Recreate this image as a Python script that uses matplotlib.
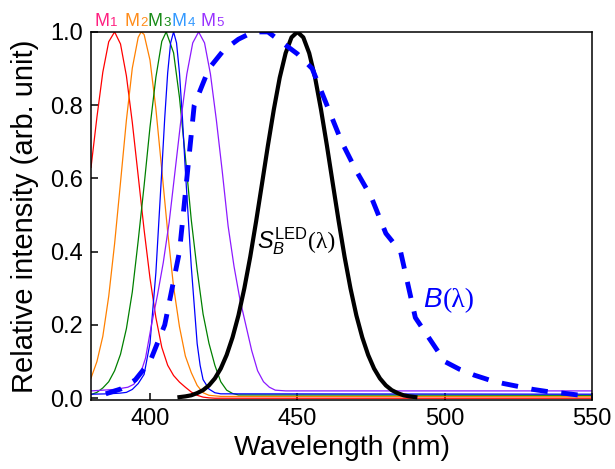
import matplotlib
matplotlib.use('Agg')
import matplotlib.pyplot as plt

# M1..M5 spectra
m1_wl = [380, 382, 384, 386, 388, 390, 392, 394, 396, 398, 400, 402, 404, 406, 408, 410, 412, 414, 416, 418, 420, 422, 550]
m1 = [0.63, 0.767, 0.89, 0.973, 1.0, 0.967, 0.88, 0.753, 0.607, 0.46, 0.328, 0.22, 0.139, 0.09, 0.062, 0.044, 0.03, 0.017, 0.008, 0.003, 0.001, 0.0, 0.0]

m2_wl = [380, 382, 384, 386, 388, 390, 392, 394, 396, 397, 398, 400, 402, 404, 406, 408, 410, 412, 414, 416, 418, 420, 424, 550]
m2 = [0.055, 0.1, 0.169, 0.278, 0.422, 0.589, 0.759, 0.901, 0.985, 1.0, 0.993, 0.923, 0.79, 0.624, 0.454, 0.304, 0.195, 0.115, 0.07, 0.035, 0.015, 0.008, 0.005, 0.004]

m3_wl = [380, 382, 384, 386, 388, 390, 392, 394, 396, 398, 400, 402, 404, 405.5, 408, 410, 412, 414, 416, 418, 420, 422, 424, 426, 428, 430, 550]
m3 = [0.01, 0.016, 0.028, 0.045, 0.075, 0.12, 0.19, 0.29, 0.43, 0.58, 0.74, 0.876, 0.974, 1.0, 0.943, 0.821, 0.658, 0.487, 0.35, 0.23, 0.15, 0.09, 0.045, 0.022, 0.013, 0.009, 0.008]

m4_wl = [380, 386, 390, 392, 394, 396, 398, 400, 402, 404, 405, 406, 407, 408, 409, 410, 411, 412, 414, 416, 417, 418, 420, 422, 424, 550]
m4 = [0.011, 0.012, 0.014, 0.016, 0.024, 0.04, 0.065, 0.15, 0.343, 0.621, 0.765, 0.888, 0.97, 1.0, 0.97, 0.888, 0.765, 0.621, 0.36, 0.149, 0.09, 0.051, 0.025, 0.015, 0.012, 0.011]

m5_wl = [380, 388, 392.5, 394.5, 396.5, 398.5, 400.5, 402.5, 404.5, 406.5, 408.5, 410.5, 412.5, 414.5, 416.5,
         418.5, 420.5, 422.5, 424.5, 426.5, 428.5, 430.5, 432.5, 434.5, 436.5, 438.5, 440.5, 442.5, 446, 550]
m5 = [0.02, 0.024, 0.03, 0.038, 0.06, 0.11, 0.2, 0.28, 0.37, 0.48, 0.62, 0.76, 0.885, 0.97, 1.0,
      0.97, 0.885, 0.76, 0.62, 0.47, 0.36, 0.27, 0.2, 0.13, 0.075, 0.045, 0.03, 0.022, 0.02, 0.02]

# blue LED spectrum S_B^LED
led_wl = [410, 412, 414, 416, 418, 420, 422, 424, 426, 428, 430, 432, 434, 436, 438, 440, 442, 444, 446, 448, 450,
          452, 454, 456, 458, 460, 462, 464, 466, 468, 470, 472, 474, 476, 478, 480, 482, 484, 486, 488, 490]
led = [0.003, 0.005, 0.008, 0.014, 0.022, 0.035, 0.054, 0.081, 0.118, 0.166, 0.226, 0.3, 0.386, 0.483, 0.586, 0.69, 0.788, 0.875, 0.942, 0.985, 1.0,
       0.985, 0.942, 0.875, 0.788, 0.69, 0.586, 0.483, 0.386, 0.3, 0.226, 0.166, 0.118, 0.081, 0.054, 0.035, 0.022, 0.014, 0.008, 0.005, 0.003]

# blue light hazard function B(lambda)
b_wl = [385, 390, 395, 400, 405, 410, 415, 420, 425, 430, 435, 440, 445, 450, 455, 460, 465, 470,
        475, 480, 485, 490, 495, 500, 505, 510, 515, 520, 525, 530, 535, 540, 545, 550]
b = [0.012, 0.025, 0.05, 0.1, 0.2, 0.4, 0.8, 0.9, 0.95, 0.98, 1.0, 1.0, 0.97, 0.94, 0.9, 0.8, 0.7, 0.62,
     0.55, 0.45, 0.4, 0.22, 0.16, 0.1, 0.079, 0.063, 0.05, 0.04, 0.032, 0.024, 0.018, 0.014, 0.009, 0.007]

labels = ['1', '2', '3', '4', '5']
label_x = [381.2, 391.4, 399.2, 407.4, 417.2]
label_colors = ['#ff2080', '#ff8c1a', '#1a8c1a', '#3399ff', '#9933ff']
curve_colors = ['#ff0000', '#ff8000', '#008000', '#0000ff', '#8c1aff']

plt.rcParams['font.family'] = ['Liberation Sans', 'DejaVu Sans']
plt.rcParams['mathtext.fontset'] = 'custom'
plt.rcParams['mathtext.it'] = 'Liberation Sans:italic'
plt.rcParams['mathtext.rm'] = 'Liberation Sans'

fig = plt.figure(figsize=(6.15, 4.69), dpi=100)
ax = fig.add_axes([0.148, 0.147, 0.815, 0.785])

for wl, v, c in zip([m1_wl, m2_wl, m3_wl, m4_wl, m5_wl], [m1, m2, m3, m4, m5], curve_colors):
    ax.plot(wl, v, color=c, lw=0.9)

ax.plot(led_wl, led, color='black', lw=3)
ax.plot(b_wl, b, color='#0000ff', lw=3.5, linestyle=(0, (3.4, 2.8)))

ax.set_xlim(380, 550)
ax.set_ylim(-0.005, 1.0)
ax.set_xticks([400, 450, 500, 550])
ax.set_yticks([0.0, 0.2, 0.4, 0.6, 0.8, 1.0])
ax.set_yticklabels(['0.0', '0.2', '0.4', '0.6', '0.8', '1.0'])
ax.tick_params(direction='in', length=5, width=1.1, labelsize=17, pad=6)
for s in ax.spines.values():
    s.set_linewidth(1.1)

ax.set_xlabel('Wavelength (nm)', fontsize=20.5, labelpad=3)
ax.set_ylabel('Relative intensity (arb. unit)', fontsize=21, labelpad=8)

# M labels above the axes
for x, d, c in zip(label_x, labels, label_colors):
    ax.text(x, 1.016, 'M', color=c, fontsize=13, va='baseline', ha='left', clip_on=False)
    ax.annotate(d, xy=(x, 1.016), xytext=(11.2, 0), textcoords='offset points',
                color=c, fontsize=9.5, va='baseline', ha='left', annotation_clip=False)

# curve labels
ax.text(453.5, 0.41, r'$\mathit{S}_{\mathit{B}}^{\mathrm{LED}}$', fontsize=17, ha='right', va='baseline')
ax.text(453.5, 0.41, '(λ)', fontsize=17, ha='left', va='baseline', family='Liberation Serif')
ax.text(499.4, 0.25, r'$\mathit{B}$', fontsize=20, ha='right', va='baseline', color='#0000ff')
ax.text(499.4, 0.25, '(λ)', fontsize=20, ha='left', va='baseline', color='#0000ff', family='Liberation Serif')

fig.savefig('out.png', dpi=100)
